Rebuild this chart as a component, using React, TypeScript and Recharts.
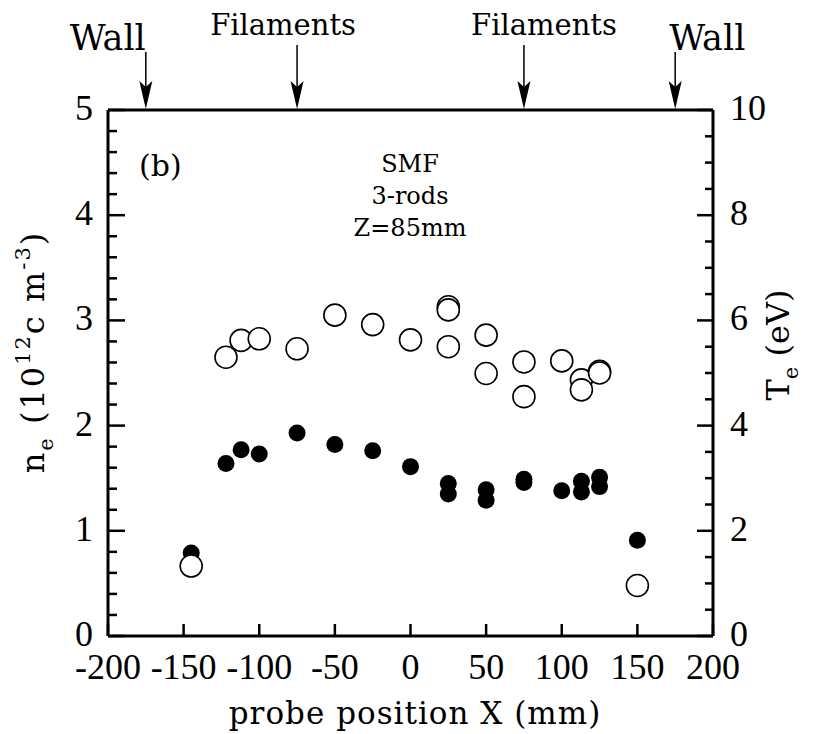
import React from "react";
import { ScatterChart, Scatter, XAxis, YAxis } from "recharts";

// axis ticks
const xTicks = [-200, -150, -100, -50, 0, 50, 100, 150, 200];
const neTicks = [0, 0.2, 0.4, 0.6, 0.8, 1, 1.2, 1.4, 1.6, 1.8, 2, 2.2, 2.4, 2.6, 2.8, 3, 3.2, 3.4, 3.6, 3.8, 4, 4.2, 4.4, 4.6, 4.8, 5];
const neLabels = [0, 1, 2, 3, 4, 5];
const teTicks = [0, 0.5, 1, 1.5, 2, 2.5, 3, 3.5, 4, 4.5, 5, 5.5, 6, 6.5, 7, 7.5, 8, 8.5, 9, 9.5, 10];
const teLabels = [0, 2, 4, 6, 8, 10];

// markers above the frame
const markerX = [-175, -75, 75, 175];
const markerText = ["Wall", "Filaments", "Filaments", "Wall"];

// electron density n_e (filled)
const neX = [-145, -122, -112, -100, -75, -50, -25, 0, 25, 25, 50, 50, 75, 75, 100, 113, 113, 125, 125, 150];
const neY = [0.79, 1.64, 1.77, 1.73, 1.93, 1.82, 1.76, 1.61, 1.45, 1.35, 1.39, 1.29, 1.49, 1.46, 1.38, 1.47, 1.37, 1.51, 1.42, 0.91];

// electron temperature T_e (open)
const teX = [-145, -122, -112, -100, -75, -50, -25, 0, 25, 25, 25, 50, 50, 75, 75, 100, 113, 113, 125, 125, 150];
const teY = [1.33, 5.3, 5.62, 5.65, 5.46, 6.1, 5.92, 5.63, 6.26, 6.2, 5.5, 5.72, 4.99, 5.21, 4.55, 5.23, 4.87, 4.68, 5.03, 5.0, 0.96];

const neData = neX.map((x, i) => ({ x, y: neY[i] }));
const teData = teX.map((x, i) => ({ x, y: teY[i] }));
const markerData = markerX.map((x, i) => ({ x, y: 5, label: markerText[i], i }));

const tickFont = "'Liberation Serif', 'Times New Roman', serif";
const textFont = "'DejaVu Serif', serif";
const INK = "#000";

/* ---------- ticks ---------- */
function LeftTick({ x, y, payload }: any) {
    const major = neLabels.includes(payload.value);
    return (
        <g>
            <line x1={x} x2={x + (major ? 17 : 9)} y1={y} y2={y} stroke={INK} strokeWidth={2.5} />
            {major && (
                <text x={x - 15} y={y + 10} textAnchor="end" fontSize={36} fontFamily={tickFont} fill={INK}>
                    {payload.value}
                </text>
            )}
        </g>
    );
}

function RightTick({ x, y, payload }: any) {
    const major = teLabels.includes(payload.value);
    return (
        <g>
            <line x1={x} x2={x - (major ? 16 : 8)} y1={y} y2={y} stroke={INK} strokeWidth={2.5} />
            {major && (
                <text x={x + 17} y={y + 10} textAnchor="start" fontSize={36} fontFamily={tickFont} fill={INK}>
                    {payload.value}
                </text>
            )}
        </g>
    );
}

function BottomTick({ x, y, payload }: any) {
    return (
        <g>
            <line x1={x} x2={x} y1={y} y2={y - 12} stroke={INK} strokeWidth={2.5} />
            <text x={x} y={y + 43} textAnchor="middle" fontSize={36} fontFamily={tickFont} fill={INK}>
                {payload.value}
            </text>
        </g>
    );
}

/* ---------- Wall / Filaments arrows ---------- */
const markerStyle = [
    { anchor: "end", dx: 0, top: 58, base: 60, size: 35 },
    { anchor: "middle", dx: -14, top: 65, base: 75, size: 29 },
    { anchor: "middle", dx: 20, top: 65, base: 75, size: 29 },
    { anchor: "start", dx: -6, top: 58, base: 60, size: 35 },
];

function ArrowMarker({ cx, cy, payload }: any) {
    const s = markerStyle[payload.i];
    return (
        <g>
            <line x1={cx} x2={cx} y1={cy - s.top} y2={cy - 20} stroke={INK} strokeWidth={1.5} />
            <path d={`M${cx},${cy - 1} L${cx - 6.5},${cy - 29} L${cx},${cy - 23} L${cx + 6.5},${cy - 29} Z`} fill={INK} />
            <text
                x={cx + s.dx}
                y={cy - s.base}
                textAnchor={s.anchor}
                fontSize={s.size}
                fontFamily={textFont}
                fill={INK}
            >
                {payload.label}
            </text>
        </g>
    );
}

/* ---------- markers ---------- */
const FilledDot = ({ cx, cy }: any) => <circle cx={cx} cy={cy} r={8.5} fill={INK} />;
const OpenDot = ({ cx, cy }: any) => <circle cx={cx} cy={cy} r={11} fill="#fff" stroke={INK} strokeWidth={1.6} />;

export default function App() {
    const axisLine = { stroke: INK, strokeWidth: 3 };
    return (
        <div style={{ position: "absolute", left: 0, top: 0, width: 813, height: 734, background: "#fff" }}>
            <ScatterChart width={813} height={734} margin={{ top: 10, right: 0, bottom: 0, left: 0 }}>
                <XAxis
                    xAxisId="bottom"
                    dataKey="x"
                    type="number"
                    domain={[-200, 200]}
                    ticks={xTicks}
                    interval={0}
                    height={98}
                    tickSize={0}
                    tickMargin={0}
                    tickLine={false}
                    axisLine={axisLine}
                    tick={<BottomTick />}
                />
                <XAxis
                    xAxisId="top"
                    orientation="top"
                    dataKey="x"
                    type="number"
                    domain={[-200, 200]}
                    height={100}
                    tick={false}
                    tickLine={false}
                    axisLine={axisLine}
                />
                <YAxis
                    yAxisId="ne"
                    dataKey="y"
                    type="number"
                    domain={[0, 5]}
                    ticks={neTicks}
                    interval={0}
                    width={108}
                    tickSize={0}
                    tickMargin={0}
                    tickLine={false}
                    axisLine={axisLine}
                    tick={<LeftTick />}
                />
                <YAxis
                    yAxisId="te"
                    orientation="right"
                    dataKey="y"
                    type="number"
                    domain={[0, 10]}
                    ticks={teTicks}
                    interval={0}
                    width={100}
                    tickSize={0}
                    tickMargin={0}
                    tickLine={false}
                    axisLine={axisLine}
                    tick={<RightTick />}
                />
                <Scatter
                    name="markers"
                    data={markerData}
                    xAxisId="top"
                    yAxisId="ne"
                    shape={<ArrowMarker />}
                    isAnimationActive={false}
                />
                <Scatter
                    name="ne"
                    data={neData}
                    xAxisId="bottom"
                    yAxisId="ne"
                    shape={<FilledDot />}
                    isAnimationActive={false}
                />
                <Scatter
                    name="Te"
                    data={teData}
                    xAxisId="bottom"
                    yAxisId="te"
                    shape={<OpenDot />}
                    isAnimationActive={false}
                />

                <text x={139} y={176} fontSize={30} fontFamily={textFont} fill={INK}>(b)</text>
                <g fontFamily={textFont} fontSize={24} fill={INK} textAnchor="middle">
                    <text x={410} y={172}>SMF</text>
                    <text x={410} y={204}>3-rods</text>
                    <text x={410} y={236}>Z=85mm</text>
                </g>

                <text x={415} y={724} textAnchor="middle" fontSize={31} fontFamily={textFont} fill={INK} letterSpacing={1}>
                    probe position X (mm)
                </text>

                <text
                    x={44}
                    y={352}
                    transform="rotate(-90, 44, 352)"
                    textAnchor="middle"
                    fontSize={32}
                    fontFamily={textFont}
                    fill={INK}
                    letterSpacing={2}
                >
                    n<tspan fontSize={21} dy={9}>e</tspan>
                    <tspan dy={-9}> (10</tspan>
                    <tspan fontSize={21} dy={-14}>12</tspan>
                    <tspan dy={14}>c m</tspan>
                    <tspan fontSize={21} dy={-14}>-3</tspan>
                    <tspan dy={14}>)</tspan>
                </text>

                <text
                    x={789}
                    y={345}
                    transform="rotate(-90, 789, 345)"
                    textAnchor="middle"
                    fontSize={32}
                    fontFamily={textFont}
                    fill={INK}
                >
                    T<tspan fontSize={21} dy={9}>e</tspan>
                    <tspan dy={-9}> (eV)</tspan>
                </text>
            </ScatterChart>
        </div>
    );
}
